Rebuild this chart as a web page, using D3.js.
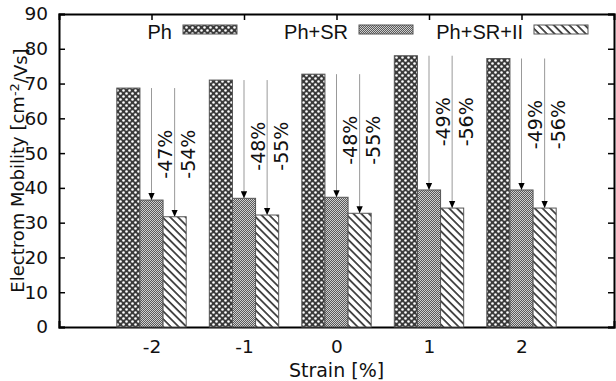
<!DOCTYPE html>
<html>
<head>
<meta charset="utf-8">
<script src="https://cdn.jsdelivr.net/npm/d3@7/dist/d3.min.js"></script>
<style>
    body { margin: 0; background: #fff; }
    text { font-family: "DejaVu Sans", sans-serif; fill: #111; }
    .legend text { font-family: "Liberation Sans", Arial, sans-serif; }
</style>
</head>
<body>
<div id="chart"></div>
<script>
var strain = [-2, -1, 0, 1, 2];                         // x categories
var phVals = [68.7, 71.0, 72.7, 78.0, 77.2];            // Ph
var srVals = [36.5, 37.0, 37.3, 39.4, 39.4];            // Ph+SR
var iiVals = [31.7, 32.2, 32.7, 34.2, 34.2];            // Ph+SR+II
var srDrop = ["-47%", "-48%", "-48%", "-49%", "-49%"];  // labels on first arrow
var iiDrop = ["-54%", "-55%", "-55%", "-56%", "-56%"];  // labels on second arrow
var yTicks = [0, 10, 20, 30, 40, 50, 60, 70, 80, 90];
var seriesNames = ["Ph", "Ph+SR", "Ph+SR+II"];

var margin = { top: 14, right: 2, bottom: 54, left: 59 },
    width = 616 - margin.left - margin.right,
    height = 381 - margin.top - margin.bottom;

var x = d3.scaleLinear().domain([-3, 3]).range([0, width]);
var y = d3.scaleLinear().domain([0, 90]).range([height, 0]);
var bw = 0.25;                                           // bar width in strain units

var root = d3.select("#chart").append("svg")
    .attr("width", 616)
    .attr("height", 381);

var defs = root.append("defs");

// Ph : dark with white dots
var p1 = defs.append("pattern").attr("id", "patPh")
    .attr("patternUnits", "userSpaceOnUse").attr("width", 6).attr("height", 6);
p1.append("rect").attr("width", 6).attr("height", 6).attr("fill", "#3a3a3a");
p1.append("circle").attr("cx", 1.5).attr("cy", 1.5).attr("r", 1.3).attr("fill", "#fff");
p1.append("circle").attr("cx", 4.5).attr("cy", 4.5).attr("r", 1.3).attr("fill", "#fff");

// Ph+SR : fine checker -> grey
var p2 = defs.append("pattern").attr("id", "patSR")
    .attr("patternUnits", "userSpaceOnUse").attr("width", 2).attr("height", 2);
p2.append("rect").attr("width", 2).attr("height", 2).attr("fill", "#cfcfcf");
p2.append("rect").attr("width", 1).attr("height", 1).attr("fill", "#5a5a5a");
p2.append("rect").attr("x", 1).attr("y", 1).attr("width", 1).attr("height", 1).attr("fill", "#5a5a5a");

// Ph+SR+II : diagonal hatch
var p3 = defs.append("pattern").attr("id", "patII")
    .attr("patternUnits", "userSpaceOnUse").attr("width", 5.5).attr("height", 5.5)
    .attr("patternTransform", "rotate(-45)");
p3.append("rect").attr("width", 5.5).attr("height", 5.5).attr("fill", "#fff");
p3.append("line").attr("x1", 1).attr("x2", 1).attr("y1", 0).attr("y2", 5.5)
    .attr("stroke", "#333").attr("stroke-width", 1.7);

defs.append("marker")                                   // arrow head
    .attr("id", "head")
    .attr("viewBox", "0 0 10 10")
    .attr("refX", 10).attr("refY", 5)
    .attr("markerUnits", "userSpaceOnUse")
    .attr("markerWidth", 7).attr("markerHeight", 7)
    .attr("orient", "auto")
    .append("path").attr("d", "M0,0.5 L10,5 L0,9.5 z").attr("fill", "#000");

var fills = ["url(#patPh)", "url(#patSR)", "url(#patII)"];

var svg = root.append("g")
    .attr("transform", "translate(" + margin.left + "," + margin.top + ")");

// ticks on all four sides, pointing inward
svg.append("g").call(d3.axisLeft(y).tickValues(yTicks).tickSize(-6).tickPadding(11));
svg.append("g").attr("transform", "translate(" + width + ",0)")
    .call(d3.axisRight(y).tickValues(yTicks).tickSize(-6).tickFormat(""));
svg.append("g").call(d3.axisTop(x).tickValues(strain).tickSize(-6).tickFormat(""));
svg.append("g").attr("transform", "translate(0," + height + ")")
    .call(d3.axisBottom(x).tickValues(strain).tickSize(-6).tickPadding(13).tickFormat(String))
    .attr("class", "xb");

svg.selectAll(".domain").attr("stroke", "#000").attr("stroke-width", 2);
svg.selectAll(".tick line").attr("stroke", "#000").attr("stroke-width", 1.5);
svg.selectAll(".tick text").style("font-size", "18.5px").style("font-family", "DejaVu Sans").attr("fill", "#111");
svg.select(".xb").selectAll(".tick text").attr("dy", "0.71em");

// bars
var series = [phVals, srVals, iiVals];
series.forEach(function (vals, s) {
    svg.append("g").selectAll("rect")
        .data(vals)
        .enter().append("rect")
        .attr("x", function (d, i) { return x(strain[i] - 1.5 * bw + s * bw); })
        .attr("width", x(bw) - x(0))
        .attr("y", function (d) { return y(d); })
        .attr("height", function (d) { return y(0) - y(d); })
        .attr("fill", fills[s])
        .attr("stroke", "#555")
        .attr("stroke-width", 1);
});

// arrows from Ph height down to the other two bars
[srVals, iiVals].forEach(function (vals, k) {
    svg.append("g").selectAll("line")
        .data(vals)
        .enter().append("line")
        .attr("x1", function (d, i) { return x(strain[i] + k * bw); })
        .attr("x2", function (d, i) { return x(strain[i] + k * bw); })
        .attr("y1", function (d, i) { return y(phVals[i]); })
        .attr("y2", function (d) { return y(d); })
        .attr("stroke", "#999")
        .attr("stroke-width", 1)
        .attr("marker-end", "url(#head)");
});

[srDrop, iiDrop].forEach(function (labs, k) {
    svg.append("g").selectAll("text")
        .data(labs)
        .enter().append("text")
        .attr("transform", function (d, i) {
            return "translate(" + x(strain[i] + k * bw + 0.15) + "," + y(phVals[i] - 19) + ") rotate(-90)";
        })
        .attr("text-anchor", "middle")
        .attr("dy", "0.36em")
        .style("font-size", "19px")
        .text(function (d) { return d; });
});

// legend inside top of plot
var legX = [113, 289, 464];                              // right end of each legend label
var leg = svg.append("g").attr("class", "legend");
seriesNames.forEach(function (n, s) {
    leg.append("text")
        .attr("x", legX[s]).attr("y", 25)
        .attr("text-anchor", "end")
        .style("font-size", "20px")
        .text(n);
    leg.append("rect")
        .attr("x", legX[s] + 11).attr("y", 11)
        .attr("width", 54).attr("height", 9)
        .attr("fill", fills[s])
        .attr("stroke", "#555");
});

// axis titles
root.append("text")
    .attr("x", margin.left + width / 2).attr("y", 377)
    .attr("text-anchor", "middle")
    .style("font-size", "19px")
    .text("Strain [%]");

var yt = root.append("text")
    .attr("transform", "translate(18," + (margin.top + height / 2) + ") rotate(-90)")
    .attr("text-anchor", "middle")
    .attr("dy", "0.36em")
    .style("font-size", "18px");
yt.append("tspan").text("Electrom Mobility [cm");
yt.append("tspan").attr("dy", "-0.45em").style("font-size", "13px").text("-2");
yt.append("tspan").attr("dy", "0.45em").text("/Vs]");
</script>
</body>
</html>
